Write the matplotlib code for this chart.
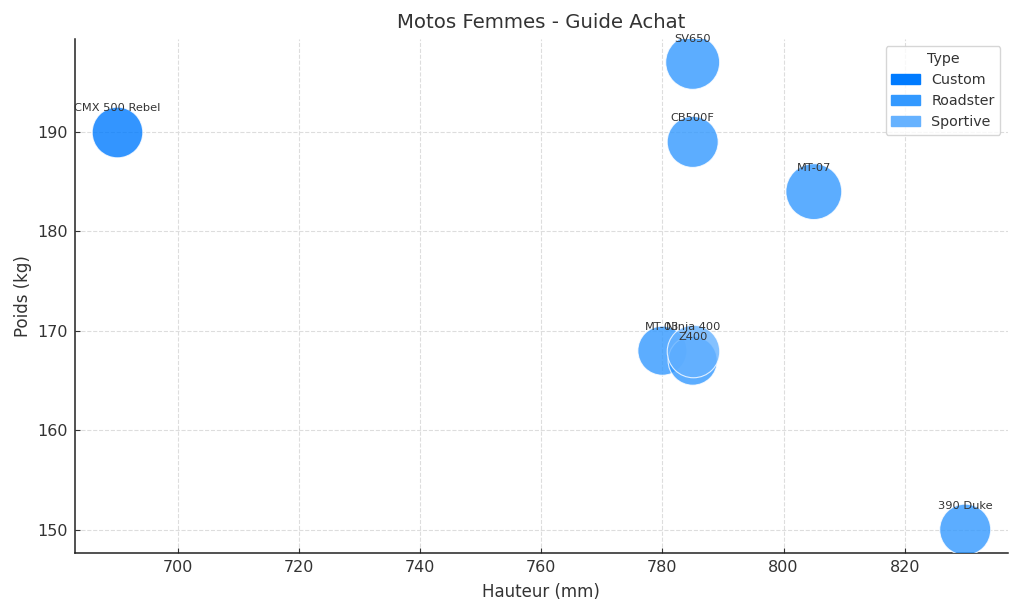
import matplotlib
matplotlib.use("Agg")
import matplotlib.pyplot as plt
import matplotlib.patches as mpatches

models = ["CMX 500 Rebel", "SV650", "CB500F", "MT-07", "MT-03", "Z400", "Ninja 400", "390 Duke"]
hauteur = [690, 785, 785, 805, 780, 785, 785, 830]
poids = [190, 197, 189, 184, 168, 167, 168, 150]
types = ["Custom", "Roadster", "Roadster", "Roadster", "Roadster", "Roadster", "Sportive", "Roadster"]
bubble_sizes = [1330, 1510, 1350, 1620, 1250, 1250, 1430, 1350]

type_names = ["Custom", "Roadster", "Sportive"]
type_colors = {"Custom": "#007BFF", "Roadster": "#3399FF", "Sportive": "#66B2FF"}

fig = plt.figure(figsize=(10.24, 6.14), dpi=100)
ax = fig.add_axes([0.0732, 0.0993, 0.9108, 0.8372])

for t in type_names:
    idx = [i for i, tt in enumerate(types) if tt == t]
    ax.scatter([hauteur[i] for i in idx], [poids[i] for i in idx],
               s=[bubble_sizes[i] for i in idx], color=type_colors[t],
               alpha=0.8, edgecolors="white", linewidths=0.8, zorder=3)

for m, x, y in zip(models, hauteur, poids):
    ax.annotate(m, (x, y), xytext=(0, 17), textcoords="offset points",
                ha="center", va="center", fontsize=8.2, color="#333333", zorder=4)

ax.set_title("Motos Femmes - Guide Achat", fontsize=14.2, color="#333333", pad=8)
ax.set_xlabel("Hauteur (mm)", fontsize=12, color="#333333", labelpad=6)
ax.set_ylabel("Poids (kg)", fontsize=12, color="#333333")
ax.tick_params(labelsize=11.5, colors="#333333", direction="in", pad=5)
ax.grid(True, linestyle="--", color="#dddddd", linewidth=0.8)
ax.set_axisbelow(True)
for s in ["top", "right"]:
    ax.spines[s].set_visible(False)
for s in ["left", "bottom"]:
    ax.spines[s].set_color("#222222")
    ax.spines[s].set_linewidth(1.1)
ax.set_xticks([700, 720, 740, 760, 780, 800, 820])
ax.set_yticks([150, 160, 170, 180, 190])

handles = [mpatches.Patch(color=type_colors[t], label=t) for t in type_names]
leg = ax.legend(handles=handles, title="Type", loc="upper right", fontsize=10.3, title_fontsize=10.3)
for txt in leg.get_texts():
    txt.set_color("#333333")
leg.get_title().set_color("#333333")

fig.savefig("out.png", dpi=100)
